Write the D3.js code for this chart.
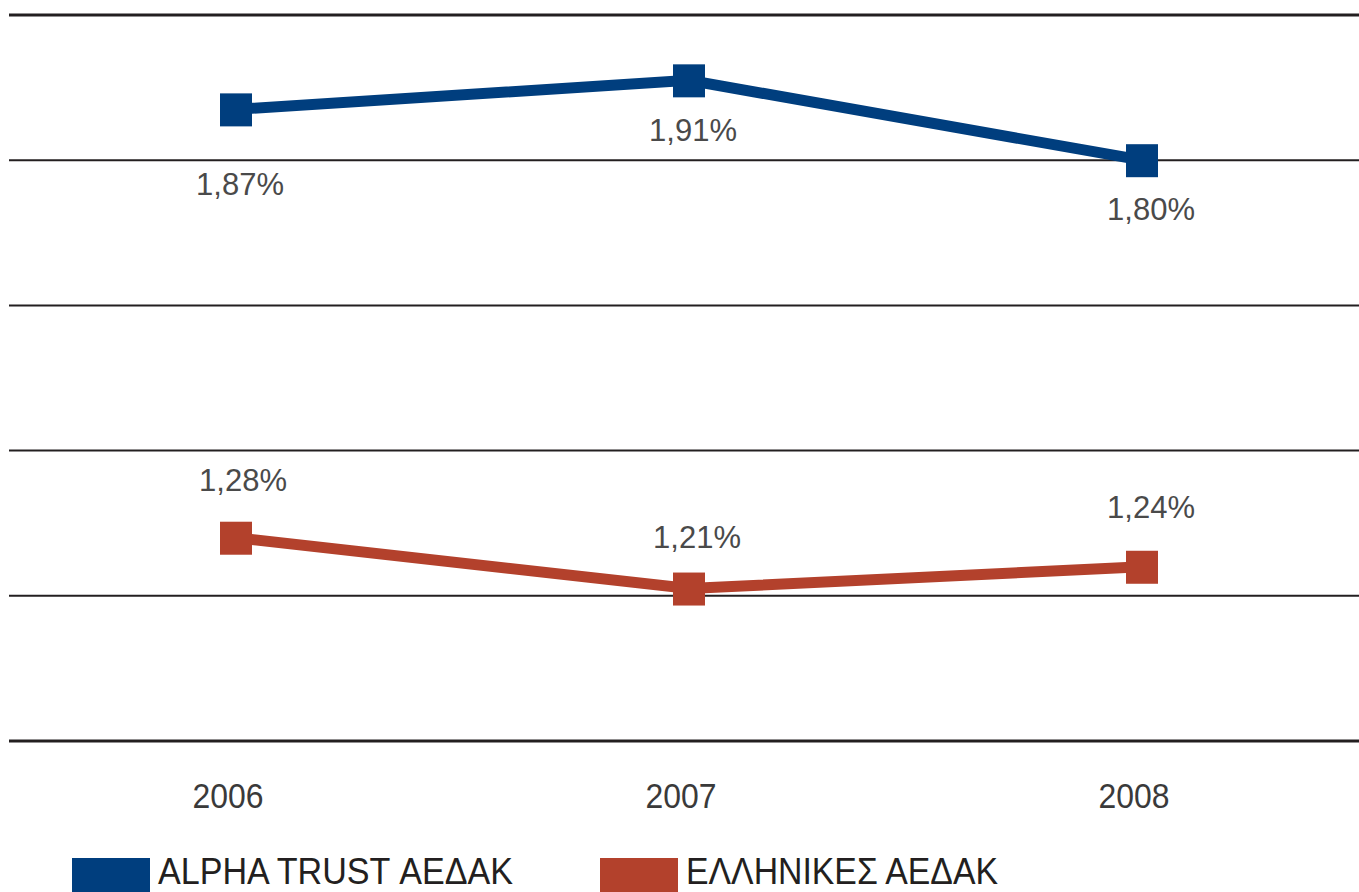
<!DOCTYPE html>
<html>
<head>
<meta charset="utf-8">
<script src="https://cdn.jsdelivr.net/npm/d3@7"></script>
<style>
  html, body { margin: 0; padding: 0; background: #fff; overflow: hidden; }
  text { font-family: "Liberation Sans", Arial, sans-serif; }
</style>
</head>
<body>
<div class="chart"></div>
<script>
const years = ['2006', '2007', '2008'];
const alphaTrust = [1.87, 1.91, 1.80];
const greekFunds = [1.28, 1.21, 1.24];
const seriesNames = ['ALPHA TRUST ΑΕΔΑΚ', 'ΕΛΛΗΝΙΚΕΣ ΑΕΔΑΚ'];
const gridTicks = [1.0, 1.2, 1.4, 1.6, 1.8, 2.0];

const width = 1359, height = 892;
const blue = '#003e7e', red = '#b3412c';

const svg = d3.select('.chart')
    .append('svg')
    .attr('width', width)
    .attr('height', height);

const x = d3.scalePoint().domain(years).range([236, 1142]);
const y = d3.scaleLinear().domain([1.0, 2.0]).range([741, 15]);

// gridlines
svg.selectAll('line.grid')
    .data(gridTicks)
    .enter()
    .append('line')
    .attr('class', 'grid')
    .attr('x1', 9)
    .attr('x2', width)
    .attr('y1', d => y(d))
    .attr('y2', d => y(d))
    .attr('stroke', '#231f20')
    .attr('stroke-width', d => (d === 1.0 || d === 2.0) ? 3 : 2);

// year labels
svg.selectAll('text.year')
    .data(years)
    .enter()
    .append('text')
    .attr('class', 'year')
    .attr('x', d => x(d) - 8)
    .attr('y', 808)
    .attr('text-anchor', 'middle')
    .attr('font-size', 35)
    .attr('textLength', 71)
    .attr('lengthAdjust', 'spacingAndGlyphs')
    .attr('fill', '#3a3a3a')
    .text(d => d);

// label offsets from the markers
const series = [
    { name: seriesNames[0], values: alphaTrust, color: blue, dy: [86, 61, 60], dx: [4, 4, 9] },
    { name: seriesNames[1], values: greekFunds, color: red, dy: [-47, -41, -49], dx: [7, 8, 9] }
];

const line = d3.line()
    .x((d, i) => x(years[i]))
    .y(d => y(d));

const fmt = v => d3.format('.2f')(v).replace('.', ',') + '%';

series.forEach(s => {
    svg.append('path')
        .datum(s.values)
        .attr('d', line)
        .attr('fill', 'none')
        .attr('stroke', s.color)
        .attr('stroke-width', 11);

    svg.selectAll(null)
        .data(s.values)
        .enter()
        .append('rect')
        .attr('x', (d, i) => x(years[i]) - 16)
        .attr('y', d => y(d) - 16)
        .attr('width', 32)
        .attr('height', 33)
        .attr('fill', s.color);

    svg.selectAll(null)
        .data(s.values)
        .enter()
        .append('text')
        .attr('x', (d, i) => x(years[i]) + s.dx[i])
        .attr('y', (d, i) => y(d) + s.dy[i])
        .attr('text-anchor', 'middle')
        .attr('font-size', 31)
        .attr('fill', '#4a4a4a')
        .text(d => fmt(d));
});

// legend
const legendX = [72, 600];
const legendW = [355, 312];
series.forEach((s, i) => {
    svg.append('rect')
        .attr('x', legendX[i])
        .attr('y', 858)
        .attr('width', 78)
        .attr('height', 40)
        .attr('fill', s.color);
    svg.append('text')
        .attr('x', legendX[i] + 86)
        .attr('y', 884)
        .attr('font-size', 36)
        .attr('textLength', legendW[i])
        .attr('lengthAdjust', 'spacingAndGlyphs')
        .attr('fill', '#231f20')
        .text(s.name);
});
</script>
</body>
</html>
